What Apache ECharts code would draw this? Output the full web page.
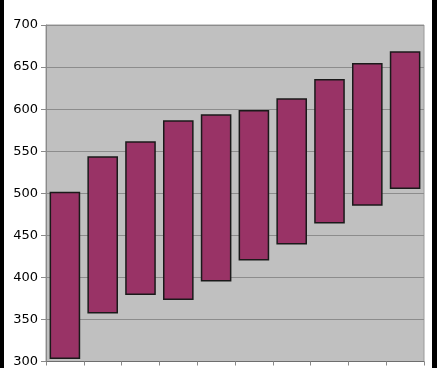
<!DOCTYPE html>
<html>
<head>
<meta charset="utf-8">
<script src="https://cdn.jsdelivr.net/npm/echarts@6/dist/echarts.min.js"></script>
<style>
html,body{margin:0;padding:0;background:#fff;}
#wrap{position:relative;width:437px;height:368px;overflow:hidden;}
#chart{position:absolute;left:0;top:0;width:437px;height:368px;}
.bl{position:absolute;left:0;top:0;width:4px;height:368px;background:#000;}
.br{position:absolute;left:432px;top:0;width:5px;height:368px;background:#000;}
</style>
</head>
<body>
<div id="wrap"><div id="chart"></div><div class="bl"></div><div class="br"></div></div>
<script>
var categories = ['1','2','3','4','5','6','7','8','9','10'];
var lowValues  = [304, 358, 380, 374, 396, 421, 440, 465, 486, 506];
var highValues = [501, 543, 561, 586, 593, 598, 612, 635, 654, 668];
var yTicks = [300, 350, 400, 450, 500, 550, 600, 650, 700];

var chart = echarts.init(document.getElementById('chart'), null, {renderer:'canvas'});
var data = categories.map(function(c, i){ return [i, lowValues[i], highValues[i]]; });

chart.setOption({
  animation: false,
  grid: {left: 46, right: 13, top: 25, bottom: 6, show: true, backgroundColor: '#c0c0c0', borderColor: '#9a9a9a', borderWidth: 1},
  xAxis: {
    type: 'category', data: categories, boundaryGap: true,
    axisLine: {lineStyle: {color: '#6e6e6e', width: 1}},
    axisTick: {show: true, length: 4, lineStyle: {color: '#8a8a8a'}},
    axisLabel: {show: false},
    splitLine: {show: false}
  },
  yAxis: {
    type: 'value', min: yTicks[0], max: yTicks[yTicks.length-1], interval: 50,
    axisLine: {show: true, lineStyle: {color: '#8a8a8a'}},
    axisTick: {show: true, length: 5, lineStyle: {color: '#8a8a8a'}},
    axisLabel: {color: '#000', fontFamily: 'DejaVu Sans', fontSize: 13, margin: 8},
    splitLine: {show: true, lineStyle: {color: '#8c8c8c', width: 1}}
  },
  series: [{
    type: 'custom',
    data: data,
    encode: {x: 0, y: [1, 2]},
    renderItem: function(params, api){
      var x = api.value(0);
      var lo = api.coord([x, api.value(1)]);
      var hi = api.coord([x, api.value(2)]);
      var w = api.size([1, 0])[0] * 0.77;
      return {
        type: 'rect',
        shape: {x: lo[0] - w/2, y: hi[1], width: w, height: lo[1] - hi[1]},
        style: {fill: '#993366', stroke: '#1a1a1a', lineWidth: 1.5}
      };
    }
  }]
});
</script>
</body>
</html>
